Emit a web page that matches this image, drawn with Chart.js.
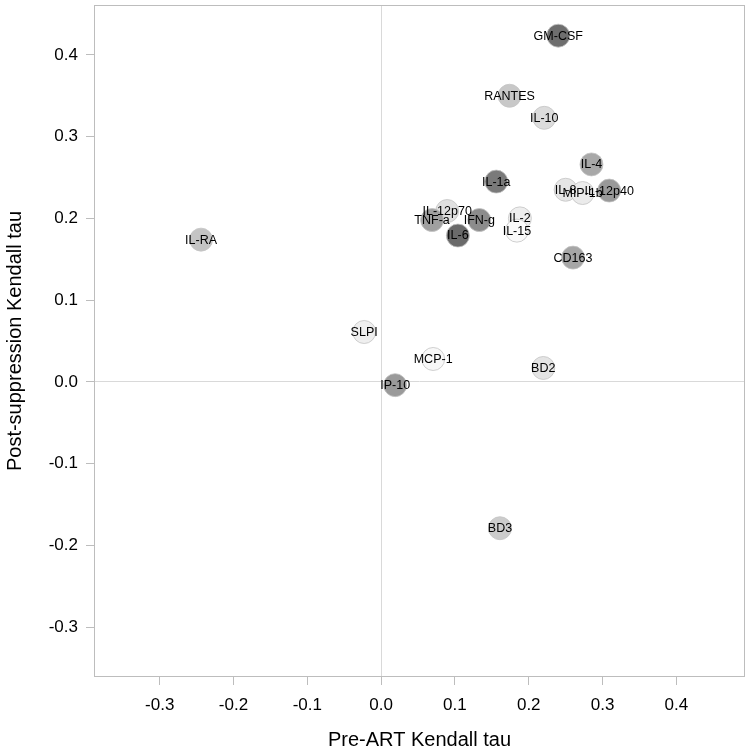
<!DOCTYPE html>
<html>
<head>
<meta charset="utf-8">
<script src="https://cdn.jsdelivr.net/npm/chart.js@4"></script>
<style>
html,body{margin:0;padding:0;background:#fff;}
#wrap{width:751px;height:752px;}
</style>
</head>
<body>
<div id="wrap"><canvas id="c" width="751" height="752"></canvas></div>
<script>
// ---- data ----
const markers = ["GM-CSF","RANTES","IL-10","IL-4","IL-1a","IL-8","MIP-1b","IL-12p40","IL-12p70","TNF-a","IFN-g","IL-6","IL-2","IL-15","CD163","IL-RA","SLPI","MCP-1","IP-10","BD2","BD3"];
const preART  = [0.240,0.174,0.221,0.285,0.156,0.250,0.273,0.309,0.0895,0.069,0.133,0.104,0.188,0.184,0.260,-0.244,-0.023,0.0705,0.019,0.2197,0.161];
const postSup = [0.4235,0.350,0.323,0.266,0.245,0.235,0.231,0.234,0.209,0.198,0.198,0.179,0.200,0.185,0.152,0.174,0.061,0.028,-0.004,0.017,-0.179];
const shades  = ["#6e6e6e","#c8c8c8","#dcdcdc","#a8a8a8","#7a7a7a","#e6e6e6","#ebebeb","#999999","#e0e0e0","#a0a0a0","#8c8c8c","#6a6a6a","#eeeeee","#fafafa","#a6a6a6","#c4c4c4","#efefef","#f8f8f8","#9a9a9a","#e4e4e4","#cccccc"];
const xTicks = [-0.3,-0.2,-0.1,0.0,0.1,0.2,0.3,0.4];
const yTicks = [-0.3,-0.2,-0.1,0.0,0.1,0.2,0.3,0.4];
const xTitle = "Pre-ART Kendall tau";
const yTitle = "Post-suppression Kendall tau";

const points = markers.map((m,i)=>({x:preART[i], y:postSup[i], label:m}));

const frameAndLabels = {
  id:'frameAndLabels',
  beforeDatasetsDraw(chart){
    const {ctx, chartArea:a} = chart;
    ctx.save();
    ctx.strokeStyle = '#bdbdbd';
    ctx.lineWidth = 1;
    ctx.strokeRect(Math.round(a.left)+0.5, Math.round(a.top)+0.5, Math.round(a.right-a.left)-1, Math.round(a.bottom-a.top)-1);
    ctx.restore();
  },
  afterDatasetsDraw(chart){
    const {ctx} = chart;
    const meta = chart.getDatasetMeta(0);
    ctx.save();
    ctx.font = '12.5px "Liberation Sans", Arial, sans-serif';
    ctx.fillStyle = '#000';
    ctx.textAlign = 'center';
    ctx.textBaseline = 'middle';
    meta.data.forEach((el,i)=>{
      ctx.fillText(markers[i], el.x, el.y+0.5);
    });
    ctx.restore();
  }
};

const tickFont = {family:'"Liberation Sans", Arial, sans-serif', size:17};
const titleFont = {family:'"Liberation Sans", Arial, sans-serif', size:20};
function noPad(s){ s.paddingTop=0; s.paddingBottom=0; s.paddingLeft=0; s.paddingRight=0; }

new Chart(document.getElementById('c'), {
  type:'scatter',
  data:{datasets:[{
    data: points,
    backgroundColor: shades,
    borderColor: '#c4c4c4',
    borderWidth: 0.8,
    pointRadius: 11.5,
    pointHoverRadius: 11.5
  }]},
  options:{
    responsive:false,
    animation:false,
    events:[],
    layout:{autoPadding:false, padding:{top:5,right:6,left:0,bottom:0}},
    plugins:{legend:{display:false}, tooltip:{enabled:false}},
    scales:{
      x:{
        type:'linear', min:-0.389, max:0.493,
        afterBuildTicks(s){ s.ticks = xTicks.map(v=>({value:v})); },
        afterFit(s){ s.height = 75; noPad(s); },
        grid:{
          color:(c)=> (c.tick && Math.abs(c.tick.value)<1e-9) ? '#d9d9d9' : 'rgba(0,0,0,0)',
          tickColor:'#bdbdbd', tickLength:8, drawTicks:true, lineWidth:1
        },
        border:{display:false},
        ticks:{font:tickFont, color:'#000', padding:10, maxRotation:0,
          callback:(v)=>v.toFixed(1)},
        title:{display:true, text:xTitle, font:titleFont, color:'#000', padding:{top:4,bottom:0}}
      },
      y:{
        type:'linear', min:-0.361, max:0.461,
        afterBuildTicks(s){ s.ticks = yTicks.map(v=>({value:v})); },
        afterFit(s){ s.width = 94; noPad(s); },
        grid:{
          color:(c)=> (c.tick && Math.abs(c.tick.value)<1e-9) ? '#d9d9d9' : 'rgba(0,0,0,0)',
          tickColor:'#bdbdbd', tickLength:8, drawTicks:true, lineWidth:1
        },
        border:{display:false},
        ticks:{font:tickFont, color:'#000', padding:8,
          callback:(v)=>v.toFixed(1)},
        title:{display:true, text:yTitle, font:titleFont, color:'#000', padding:{top:3,bottom:4}}
      }
    }
  },
  plugins:[frameAndLabels]
});
</script>
</body>
</html>
